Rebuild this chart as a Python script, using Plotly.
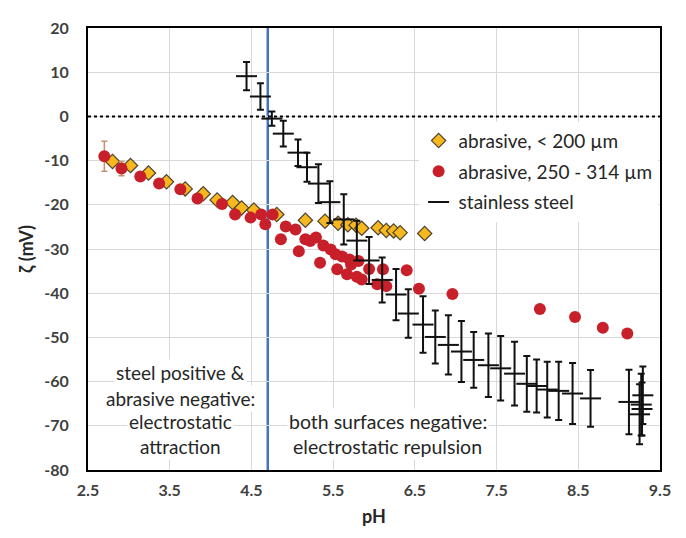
import plotly.graph_objects as go

# ---- data ----
ph_small = [2.80, 3.02, 3.24, 3.46, 3.69, 3.91, 4.08, 4.27, 4.38, 4.53, 4.81,
            5.16, 5.40, 5.56, 5.68, 5.78, 5.85, 6.05, 6.15, 6.24, 6.32, 6.62]
zeta_small = [-10.2, -11.1, -12.8, -14.8, -16.4, -17.5, -18.9, -19.5, -20.7, -21.2, -22.2,
              -23.5, -23.7, -24.2, -24.5, -24.6, -25.3, -25.2, -25.8, -25.9, -26.3, -26.5]
err_small = [0, 0, 0, 0, 0, 1.1, 0, 0, 0, 0, 0,
             0, 0, 0, 0, 0, 0, 0, 0, 0, 0, 0]

ph_large = [2.70, 2.91, 3.14, 3.37, 3.63, 3.84, 4.14, 4.30, 4.49, 4.62, 4.67, 4.76,
            4.86, 4.92, 5.04, 5.08, 5.16, 5.22, 5.29, 5.34, 5.38, 5.47, 5.53, 5.55,
            5.61, 5.67, 5.70, 5.72, 5.79, 5.81, 5.85, 5.94, 6.04, 6.11, 6.15, 6.40,
            6.55, 6.96, 8.03, 8.46, 8.80, 9.10]
zeta_large = [-9.0, -11.8, -13.6, -15.2, -16.5, -18.6, -19.8, -22.2, -22.9, -22.2, -24.4, -22.2,
              -27.8, -24.9, -25.6, -30.5, -27.8, -28.2, -27.4, -33.1, -29.2, -30.1, -31.2, -34.6,
              -31.7, -35.7, -32.4, -33.5, -36.3, -32.7, -36.9, -34.5, -38.0, -34.6, -38.4, -34.8,
              -39.0, -40.2, -43.6, -45.4, -47.8, -49.1]
err_large = [3.4, 1.6] + [0] * 40

ph_steel = [4.44, 4.61, 4.75, 4.89, 5.07, 5.18, 5.32, 5.46, 5.63, 5.79, 5.94, 6.10,
            6.27, 6.42, 6.60, 6.75, 6.91, 7.07, 7.22, 7.40, 7.55, 7.72, 7.87, 7.99,
            8.12, 8.26, 8.43, 8.65, 9.12, 9.29, 9.27, 9.25, 9.28]
zeta_steel = [9.1, 4.5, -0.5, -3.9, -8.2, -11.5, -15.2, -19.4, -23.3, -28.1, -32.6, -37.0,
              -40.3, -44.6, -47.1, -49.9, -51.7, -53.2, -55.1, -56.3, -57.0, -58.2, -60.5, -61.0,
              -61.8, -62.1, -62.7, -63.8, -64.6, -63.1, -65.2, -67.4, -66.2]
err_steel = [3.2, 3.0, 1.6, 2.9, 3.0, 3.3, 4.4, 4.7, 5.7, 4.5, 5.3, 5.1,
             5.8, 5.5, 6.4, 6.0, 6.7, 6.9, 6.3, 7.2, 7.3, 7.2, 6.3, 6.0,
             6.3, 6.6, 6.9, 6.4, 7.3, 6.5, 7.0, 6.8, 6.0]

iep_ph = 4.7
x_ticks = [2.5, 3.5, 4.5, 5.5, 6.5, 7.5, 8.5, 9.5]
x_tick_labels = ["2.5", "3.5", "4.5", "5.5", "6.5", "7.5", "8.5", "9.5"]
y_ticks = [20, 10, 0, -10, -20, -30, -40, -50, -60, -70, -80]
y_tick_labels = ["20", "10", "0", "-10", "-20", "-30", "-40", "-50", "-60", "-70", "-80"]

left_text = ["steel positive &", "abrasive negative:", "electrostatic", "attraction"]
left_text_y = [-58.0, -63.9, -69.1, -74.7]
left_text_x = 3.63
right_text = ["both surfaces negative:", "electrostatic repulsion"]
right_text_y = [-69.0, -74.7]
right_text_x = 6.17

FONT = "Lato"
TXT = "#262626"

fig = go.Figure()

fig.add_trace(go.Scatter(
    x=ph_small, y=zeta_small, mode="markers", name="abrasive, < 200 µm",
    legendgroup="a",
    marker=dict(symbol="diamond", size=11, color="#F7B81E",
                line=dict(color="#4d4330", width=1.2)),
    error_y=dict(type="data", array=err_small, color="#C07A40", thickness=1.2, width=3),
))
fig.add_trace(go.Scatter(
    x=ph_large, y=zeta_large, mode="markers", name="abrasive, 250 - 314 µm",
    legendgroup="b",
    marker=dict(symbol="circle", size=12, color="#C8202A"),
    error_y=dict(type="data", array=err_large, color="#C89070", thickness=1.5, width=3),
))
fig.add_trace(go.Scatter(
    x=ph_steel, y=zeta_steel, mode="markers", name="stainless steel",
    legendgroup="c",
    marker=dict(symbol="line-ew", size=15, color="black",
                line=dict(color="#111111", width=2)),
    error_y=dict(type="data", array=err_steel, color="#111111", thickness=2, width=3.5),
))

# zero line (dotted) and IEP line (blue)
fig.add_shape(type="line", xref="x", yref="y", x0=x_ticks[0], x1=x_ticks[-1], y0=0, y1=0,
              line=dict(color="black", width=2, dash="dot"), layer="above")
fig.add_shape(type="line", xref="x", yref="y", x0=iep_ph, x1=iep_ph,
              y0=y_ticks[-1], y1=y_ticks[0],
              line=dict(color="#4472C4", width=2.5), layer="below")

for t, yy in zip(left_text, left_text_y):
    fig.add_annotation(x=left_text_x, y=yy, text=t, showarrow=False,
                       font=dict(family=FONT, size=19, color=TXT), bgcolor="white")
for t, yy in zip(right_text, right_text_y):
    fig.add_annotation(x=right_text_x, y=yy, text=t, showarrow=False,
                       font=dict(family=FONT, size=19.5, color=TXT), bgcolor="white")

fig.update_layout(
    width=686, height=538,
    margin=dict(l=88, r=26, t=28, b=68),
    paper_bgcolor="white", plot_bgcolor="white",
    font=dict(family=FONT, color=TXT),
    legend=dict(x=0.578, y=0.788, xanchor="left", yanchor="top",
                bgcolor="white", font=dict(family=FONT, size=19, color=TXT),
                tracegroupgap=3, itemwidth=30),
    showlegend=True,
)
fig.update_xaxes(
    range=[x_ticks[0], x_ticks[-1]], tickvals=x_ticks, ticktext=x_tick_labels,
    showgrid=True, gridcolor="#D9D9D9", gridwidth=1, zeroline=False,
    showline=True, linecolor="black", linewidth=2, mirror=True, ticks="",
    ticklabelstandoff=5, automargin=False,
    tickfont=dict(family=FONT, size=16, color="#404040", weight="bold"),
    title=dict(text="pH", font=dict(family=FONT, size=18, color="#262626", weight="bold"),
               standoff=12),
)
fig.update_yaxes(
    range=[y_ticks[-1], y_ticks[0]], tickvals=y_ticks, ticktext=y_tick_labels,
    showgrid=True, gridcolor="#D9D9D9", gridwidth=1, zeroline=False,
    showline=True, linecolor="black", linewidth=2, mirror=True, ticks="",
    ticklabelstandoff=14, automargin=False,
    tickfont=dict(family=FONT, size=16, color="#404040", weight="bold"),
    title=dict(text="ζ (mV)", font=dict(family=FONT, size=18, color="#262626", weight="bold"),
               standoff=6),
)

fig.write_html("out.html", config={"displayModeBar": False},
               post_script="document.body.style.margin='0px';")
